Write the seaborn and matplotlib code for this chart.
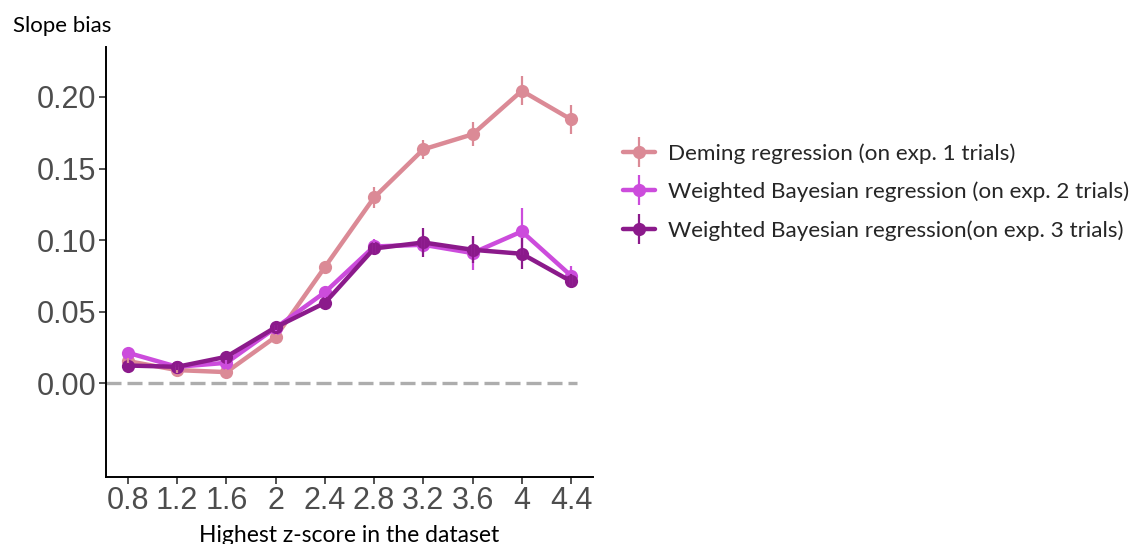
import numpy as np
import pandas as pd
import matplotlib.pyplot as plt
from matplotlib.lines import Line2D
import seaborn as sns

sns.set_theme(style='ticks')

# data
z_scores = [0.8, 1.2, 1.6, 2.0, 2.4, 2.8, 3.2, 3.6, 4.0, 4.4]
tick_labels = ['0.8', '1.2', '1.6', '2', '2.4', '2.8', '3.2', '3.6', '4', '4.4']

deming = [0.0156, 0.0093, 0.0079, 0.0325, 0.0812, 0.1298, 0.1634, 0.1739, 0.2043, 0.1843]
deming_err = [0.002, 0.002, 0.002, 0.002, 0.004, 0.007, 0.0064, 0.0084, 0.010, 0.0099]

bayes2 = [0.0214, 0.0116, 0.0144, 0.0388, 0.0636, 0.0956, 0.0968, 0.0910, 0.1061, 0.0752]
bayes2_err = [0.002, 0.002, 0.002, 0.002, 0.004, 0.005, 0.006, 0.0118, 0.0166, 0.007]

bayes3 = [0.0125, 0.0116, 0.0186, 0.0392, 0.0562, 0.0942, 0.0984, 0.0933, 0.0905, 0.0713]
bayes3_err = [0.002, 0.002, 0.002, 0.002, 0.003, 0.004, 0.010, 0.0095, 0.0107, 0.005]

series_names = ['Deming regression (on exp. 1 trials)',
                'Weighted Bayesian regression (on exp. 2 trials)',
                'Weighted Bayesian regression(on exp. 3 trials)']
colours = ['#DB8A96', '#CC4CDC', '#8B1A8B']

df = pd.DataFrame({
    'z': z_scores * 3,
    'bias': deming + bayes2 + bayes3,
    'err': deming_err + bayes2_err + bayes3_err,
    'method': [series_names[0]] * 10 + [series_names[1]] * 10 + [series_names[2]] * 10,
})

fig = plt.figure(figsize=(11.43, 5.44), dpi=100)
ax = fig.add_axes([0.0925, 0.124, 0.4265, 0.79])

# dashed zero line
ax.hlines(0, 0.62, 4.45, color='#ADADAD', lw=2.4, ls=(0, (4.5, 1.8)), zorder=1)

sns.lineplot(data=df, x='z', y='bias', hue='method', palette=colours,
             hue_order=series_names, marker='o', markersize=9.5, markeredgewidth=0,
             linewidth=3.2, ax=ax, legend=False, zorder=3)

for name, c in zip(series_names, colours):
    sub = df[df['method'] == name]
    ax.errorbar(sub['z'], sub['bias'], yerr=sub['err'], fmt='none',
                ecolor=c, elinewidth=1.6, capsize=0, zorder=3)

ax.set_xlim(0.62, 4.58)
ax.set_ylim(-0.065, 0.235)
ax.set_xticks(z_scores)
ax.set_xticklabels(tick_labels)
ax.set_yticks([0.0, 0.05, 0.10, 0.15, 0.20])
ax.set_yticklabels(['0.00', '0.05', '0.10', '0.15', '0.20'])
ax.tick_params(labelsize=22, labelcolor='#4D4D4D', color='#333333',
               length=5, width=1.2, pad=2)
for lbl in ax.get_xticklabels() + ax.get_yticklabels():
    lbl.set_family('Liberation Sans')
sns.despine(ax=ax)
for s in ['left', 'bottom']:
    ax.spines[s].set_linewidth(1.4)
    ax.spines[s].set_color('black')

ax.set_xlabel('Highest z-score in the dataset', fontsize=16.5, family='Lato',
              color='black', labelpad=6)
ax.set_ylabel('')
fig.text(0.011, 0.953, 'Slope bias', fontsize=16, family='Lato',
         color='black', va='center', ha='left')

handles = []
for c in colours:
    h1 = Line2D([], [], color=c, lw=3.2, marker='o', ms=9.5, mew=0)
    h2 = Line2D([], [], color=c, marker='|', ms=22, mew=1.6, ls='none')
    handles.append((h1, h2))
fig.legend(handles, series_names, loc='center left', bbox_to_anchor=(0.527, 0.647),
           frameon=False, prop={'family': 'Lato', 'size': 16.2},
           handlelength=1.45, labelspacing=0.8, handletextpad=0.55)

fig.savefig('out.png', dpi=100)
